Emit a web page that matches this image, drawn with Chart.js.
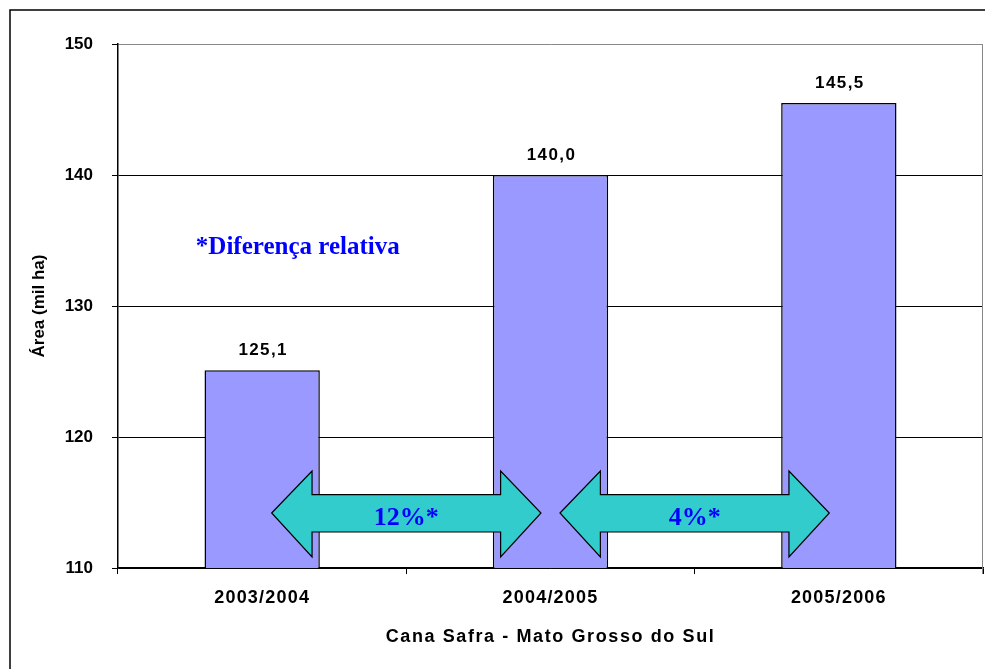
<!DOCTYPE html>
<html>
<head>
<meta charset="utf-8">
<script src="https://cdn.jsdelivr.net/npm/chart.js@4/dist/chart.umd.min.js"></script>
<style>
  html, body { margin: 0; padding: 0; background: #fff; }
  canvas { display: block; }
</style>
</head>
<body>
<canvas id="c" width="985" height="669"></canvas>
<script>
// ---- data ----
const categories = ['2003/2004', '2004/2005', '2005/2006'];
const areaValues = [125.1, 140.0, 145.5];
const yTickValues = [110, 120, 130, 140, 150];
const diffLabels = ['12%*', '4%*'];
const noteText = '*Diferença relativa';
const xTitleText = 'Cana Safra - Mato Grosso do Sul';
const yTitleText = 'Área (mil ha)';

// ---- annotation placement (in axis units) ----
const arrowCenterValue = 114.2;
const arrowShaftTop = 115.6, arrowShaftBottom = 112.75;
const arrowHeadTop = 117.4, arrowHeadBottom = 110.85;
const arrowInset = 0.033, arrowHeadFrac = 0.14;
const noteX = -0.23, noteY = 134.5;

const fmt = v => v.toFixed(1).replace('.', ',');

Chart.defaults.font.family = '"Liberation Sans", Arial, sans-serif';
Chart.defaults.color = '#000';

const decorPlugin = {
  id: 'decor',
  beforeDraw(chart) {
    const c = chart.ctx;
    c.save();
    c.fillStyle = '#fff';
    c.fillRect(0, 0, chart.width, chart.height);
    c.strokeStyle = '#000';
    c.lineWidth = 1.5;
    c.strokeRect(10, 10, chart.width + 20, chart.height + 20);
    c.restore();
  },
  afterLayout(chart) {
    const xs = chart.scales.x;
    if (xs && !xs._spaced) {
      xs._spaced = true;
      const ol = xs.drawLabels, ot = xs.drawTitle;
      xs.drawLabels = function (a) { const c = this.ctx; c.save(); c.letterSpacing = '1.2px'; ol.call(this, a); c.restore(); };
      xs.drawTitle = function (a) { const c = this.ctx; c.save(); c.letterSpacing = '1.6px'; ot.call(this, a); c.restore(); };
    }
  },
  afterDatasetsDraw(chart) {
    const c = chart.ctx;
    const xs = chart.scales.x, ys = chart.scales.y;
    const area = chart.chartArea;
    c.save();
    // right border of plot area
    c.strokeStyle = '#888';
    c.lineWidth = 1;
    c.beginPath();
    c.moveTo(Math.round(area.right) - 0.5, area.top);
    c.lineTo(Math.round(area.right) - 0.5, area.bottom + 6);
    c.stroke();

    // value labels
    const meta = chart.getDatasetMeta(0);
    c.fillStyle = '#000';
    c.font = 'bold 17px "Liberation Sans", Arial, sans-serif';
    c.letterSpacing = '1.4px';
    c.textAlign = 'center';
    c.textBaseline = 'alphabetic';
    meta.data.forEach((bar, i) => {
      c.fillText(fmt(areaValues[i]), bar.x + 1, bar.y - 15);
    });
    c.letterSpacing = '0px';

    // double arrows
    const catW = xs.getPixelForValue(1) - xs.getPixelForValue(0);
    const yc = ys.getPixelForValue(arrowCenterValue);
    const sT = ys.getPixelForValue(arrowShaftTop), sB = ys.getPixelForValue(arrowShaftBottom);
    const hT = ys.getPixelForValue(arrowHeadTop), hB = ys.getPixelForValue(arrowHeadBottom);
    const hl = arrowHeadFrac * catW;
    diffLabels.forEach((lab, i) => {
      const x1 = xs.getPixelForValue(i) + arrowInset * catW;
      const x2 = xs.getPixelForValue(i + 1) - arrowInset * catW;
      c.beginPath();
      c.moveTo(x1, yc);
      c.lineTo(x1 + hl, hT);
      c.lineTo(x1 + hl, sT);
      c.lineTo(x2 - hl, sT);
      c.lineTo(x2 - hl, hT);
      c.lineTo(x2, yc);
      c.lineTo(x2 - hl, hB);
      c.lineTo(x2 - hl, sB);
      c.lineTo(x1 + hl, sB);
      c.lineTo(x1 + hl, hB);
      c.closePath();
      c.fillStyle = '#33CCCC';
      c.fill();
      c.strokeStyle = '#000';
      c.lineWidth = 1.2;
      c.stroke();
      c.fillStyle = '#0000FF';
      c.font = 'bold 26px "Liberation Serif", "Times New Roman", serif';
      c.textAlign = 'center';
      c.textBaseline = 'alphabetic';
      c.fillText(lab, (x1 + x2) / 2, yc + 12);
    });

    // note
    c.fillStyle = '#0000FF';
    c.font = 'bold 25px "Liberation Serif", "Times New Roman", serif';
    c.textAlign = 'left';
    c.textBaseline = 'middle';
    c.fillText(noteText, xs.getPixelForValue(noteX), ys.getPixelForValue(noteY));
    c.restore();
  }
};

const chart = new Chart(document.getElementById('c'), {
  type: 'bar',
  data: {
    labels: categories,
    datasets: [{
      data: areaValues,
      backgroundColor: '#9999FF',
      borderColor: '#000',
      borderWidth: 1.5,
      categoryPercentage: 1,
      barPercentage: 0.4
    }]
  },
  options: {
    responsive: false,
    animation: false,
    layout: { padding: { top: 44, right: 2, left: 0, bottom: 0 } },
    plugins: { legend: { display: false }, tooltip: { enabled: false } },
    scales: {
      x: {
        grid: { offset: true, drawOnChartArea: false, drawTicks: true, tickLength: 6, color: '#000' },
        border: { color: '#000', width: 1.5 },
        ticks: { color: '#000', font: { size: 18, weight: 'bold' }, padding: 13, maxRotation: 0 },
        title: { display: true, text: xTitleText, color: '#000', font: { size: 18, weight: 'bold' }, padding: { top: 0, bottom: 21 } },
        afterFit: s => { s.height = 101; }
      },
      y: {
        min: yTickValues[0],
        max: yTickValues[yTickValues.length - 1],
        afterBuildTicks: s => { s.ticks = yTickValues.map(v => ({ value: v })); },
        ticks: { color: '#000', font: { size: 17, weight: 'bold' }, padding: 19 },
        grid: {
          color: ctx => (ctx.tick && ctx.tick.value === 150) ? '#888' : '#000',
          tickColor: '#000',
          tickLength: 6
        },
        border: { color: '#000', width: 1.5 },
        title: { display: true, text: yTitleText, color: '#000', font: { size: 17, weight: 'bold' }, padding: { top: 29, bottom: 0 } },
        afterFit: s => { s.width = 118; }
      }
    }
  },
  plugins: [decorPlugin]
});
chart.draw();
</script>
</body>
</html>
